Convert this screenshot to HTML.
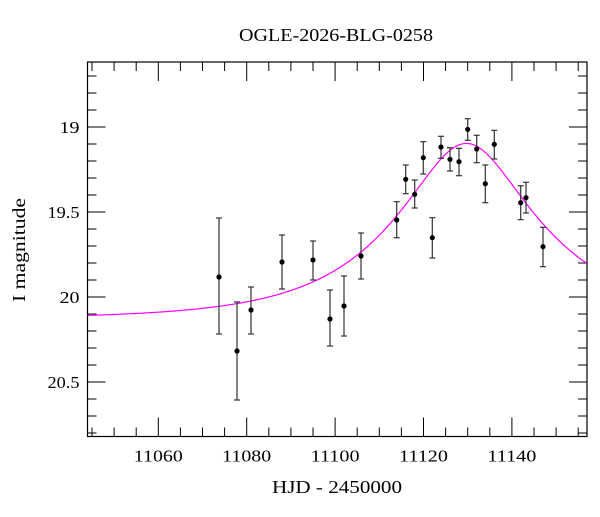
<!DOCTYPE html>
<html><head><meta charset="utf-8"><style>
html,body{margin:0;padding:0;background:#fff}
svg text{font-family:"Liberation Serif",serif;fill:#000}
</style></head><body>
<svg id="s" width="600" height="512" xmlns="http://www.w3.org/2000/svg">
<text x="336" y="41" text-anchor="middle" font-size="18" textLength="194" lengthAdjust="spacingAndGlyphs">OGLE-2026-BLG-0258</text>
<text x="337" y="493" text-anchor="middle" font-size="18" textLength="130" lengthAdjust="spacingAndGlyphs">HJD - 2450000</text>
<text transform="translate(25,250) rotate(-90)" text-anchor="middle" font-size="18" textLength="104" lengthAdjust="spacingAndGlyphs">I magnitude</text>
<rect x="87.5" y="62" width="499.5" height="374.5" fill="none" stroke="#000" stroke-width="1.2"/>
<g id="g"></g>
</svg>
<script>
var g=document.getElementById('g'),h='';
var L=87.5,R=587,T=62,B=436.5;
function X(t){return 158.3+(t-11060)*4.42;}
function Y(m){return 127+(m-19)*170;}
for(var t=11045;t<=11155;t+=5){var x=X(t);if(x<L||x>R)continue;var maj=t%20==0;var len=maj?19:9;
h+='<line x1="'+x+'" y1="'+B+'" x2="'+x+'" y2="'+(B-len)+'" stroke="#000"/>';
h+='<line x1="'+x+'" y1="'+T+'" x2="'+x+'" y2="'+(T+len)+'" stroke="#000"/>';
if(maj&&t>=11060&&t<=11140)h+='<text x="'+x+'" y="'+(B+25)+'" text-anchor="middle" font-size="17" textLength="49" lengthAdjust="spacingAndGlyphs">'+t+'</text>';}
for(var i=7;i<=28;i++){var m=18+i/10;var y=Y(m);if(y<T||y>B)continue;var maj=i%5==0;var len=maj?18:9;
h+='<line x1="'+L+'" y1="'+y+'" x2="'+(L+len)+'" y2="'+y+'" stroke="#000"/>';
h+='<line x1="'+R+'" y1="'+y+'" x2="'+(R-len)+'" y2="'+y+'" stroke="#000"/>';
if(maj){var whole=(i%10==0);var lab=whole?String(18+i/10):(18+i/10).toFixed(1);
h+='<text x="'+(L-8)+'" y="'+(y+6)+'" text-anchor="end" font-size="17" textLength="'+(whole?(lab.length*10):(lab.length>3?32:32))+'" lengthAdjust="spacingAndGlyphs">'+lab+'</text>';}}
var t0=11129.7,u0=0.41,tE=30.4,m0=20.13,p='';
for(var x=L;x<=R;x+=1){var t=11060+(x-158.3)/4.42;var tau=(t-t0)/tE;var u=Math.sqrt(u0*u0+tau*tau);
var A=(u*u+2)/(u*Math.sqrt(u*u+4));var y=Y(m0-2.5*Math.log10(A));p+=(p?'L':'M')+x.toFixed(1)+','+y.toFixed(1);}
h+='<path d="'+p+'" fill="none" stroke="#f0f" stroke-width="1.2"/>';
var d=[[219,277,218,334],[237,351,302,400],[251,310,287,334],[282,262,235,289],[313,260,241,280],[330,319,290,346],[344,306,276,336],[361,256,233,279],
[396.7,220,201.7,237.7],[405.7,179.3,165,193.7],[414.7,194.3,180,208],[423.3,157.7,141.7,174],[432.3,237.7,217.7,258],[441,147,136.3,158.3],[450,159.3,147.7,171],[459,161.7,148.3,175.7],[467.7,129.3,118.7,140.3],[476.7,149,135.3,162.7],[485.3,183.7,165,202.7],[494.3,144.3,130.3,159],[520.7,202.7,185.7,219.7],[526,197.7,182.3,213],[543,246.7,227.3,266.7]];
d.forEach(function(a){var x=a[0];
h+='<line x1="'+x+'" y1="'+a[2]+'" x2="'+x+'" y2="'+a[3]+'" stroke="#333" stroke-width="1.2"/>';
h+='<line x1="'+(x-3)+'" y1="'+a[2]+'" x2="'+(x+3)+'" y2="'+a[2]+'" stroke="#333" stroke-width="1.2"/>';
h+='<line x1="'+(x-3)+'" y1="'+a[3]+'" x2="'+(x+3)+'" y2="'+a[3]+'" stroke="#333" stroke-width="1.2"/>';
h+='<circle cx="'+x+'" cy="'+a[1]+'" r="2.6" fill="#000"/>';});
g.innerHTML=h;
</script>
</body></html>
